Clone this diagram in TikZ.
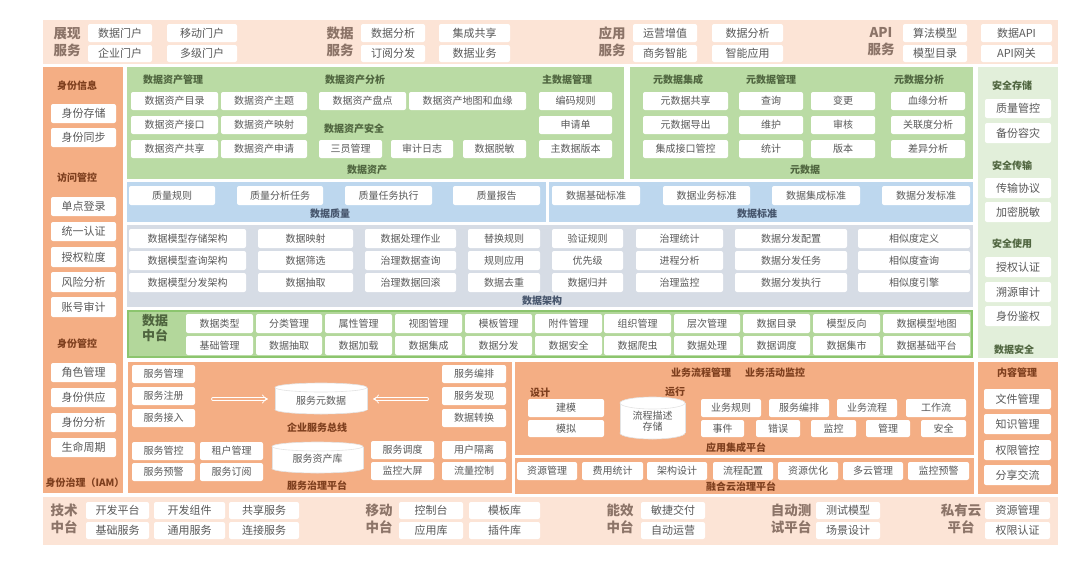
\documentclass[tikz,border=0pt]{standalone}
\usepackage{fontspec}
\setmainfont{Noto Sans CJK SC}
\usetikzlibrary{arrows.meta}
\definecolor{peach}{HTML}{FCE4D6}
\definecolor{orng}{HTML}{F4AE84}
\definecolor{grn}{HTML}{BADBA4}
\definecolor{lgrn}{HTML}{E2EFDA}
\definecolor{blu}{HTML}{BDD7EE}
\definecolor{gry}{HTML}{D6DCE5}
\definecolor{mgrn}{HTML}{B3D79B}
\definecolor{mgrnb}{HTML}{8CC56E}
\definecolor{boxtxt}{HTML}{595959}
\definecolor{bandtxt}{HTML}{8C7468}
\definecolor{orgtxt}{HTML}{7E3F1E}
\definecolor{grntxt}{HTML}{4F653F}
\definecolor{blutxt}{HTML}{45546B}
\definecolor{cylline}{HTML}{E3E3E3}
\newcommand\tbx[7][]{\node[box,minimum width={(#5-#3)*1pt},minimum height={(#6-#4)*1pt},#1] (#2) at ({(#3+#5)/2},{(#4+#6)/2}) {#7};}
\newcommand\tcyl[8]{%
 \filldraw[fill=white,draw=cylline,line width=.6pt] ({(#2+#4)/2},{#5-#6}) ellipse [x radius={(#4-#2)/2*1pt}, y radius=#6pt];
 \fill[white] (#2,{#3+#6}) rectangle (#4,{#5-#6});
 \draw[cylline,line width=.6pt] (#2,{#3+#6}) -- (#2,{#5-#6}) (#4,{#3+#6}) -- (#4,{#5-#6});
 \filldraw[fill=white,draw=cylline,line width=.6pt] ({(#2+#4)/2},{#3+#6}) ellipse [x radius={(#4-#2)/2*1pt}, y radius=#6pt];
 \node[cyltxt] (#1) at ({(#2+#4)/2},{(#3+#5)/2+#7}) {#8};}
\begin{document}
\begin{tikzpicture}[x=1pt,y=-1pt,
  box/.style={fill=white,rounded corners=2pt,inner sep=0pt,text=boxtxt,font=\fontsize{10}{12}\selectfont},
  bx11/.style={font=\fontsize{11}{13}\selectfont},
  cyltxt/.style={inner sep=0pt,text=boxtxt,font=\fontsize{10}{12}\selectfont,align=center},
  lbl/.style={inner sep=0pt,font=\bfseries\fontsize{10}{12}\selectfont},
  olbl/.style={lbl,text=orgtxt},
  glbl/.style={lbl,text=grntxt},
  blbl/.style={lbl,text=blutxt},
  band/.style={inner sep=0pt,align=center,text=bandtxt,font=\bfseries\fontsize{13.5}{17}\selectfont},
  harrow/.style={draw=white,line width=.7pt,double=orng,double distance=2.4pt,line cap=round,-{Implies}}
]
\useasboundingbox (0,0) rectangle (1080,568);
% ---------- backgrounds ----------
\fill[peach] (43,20) rectangle (1058,64);
\fill[orng] (43,67) rectangle (123,493);
\fill[grn] (127,67) rectangle (624,179);
\fill[grn] (630,67) rectangle (973,179);
\fill[lgrn] (978,67) rectangle (1058,358);
\fill[blu] (127,182) rectangle (546,222);
\fill[blu] (549,182) rectangle (973,222);
\fill[gry] (127,225) rectangle (973,307);
\fill[mgrn,draw=mgrnb,line width=1.5pt] (128,311) rectangle (972,357);
\fill[orng] (128,362) rectangle (512,493);
\fill[orng] (515,362) rectangle (974,455);
\fill[orng] (515,458) rectangle (974,494);
\fill[orng] (978,362) rectangle (1058,494);
\fill[peach] (43,497) rectangle (1058,545);
% ---------- top band ----------
\node[band] (L1) at (67,42) {展现\\服务};
\tbx[bx11]{t1}{88}{24}{152}{42}{数据门户}
\tbx[bx11]{t2}{88}{45}{152}{62}{企业门户}
\tbx[bx11]{t3}{167}{24}{237}{42}{移动门户}
\tbx[bx11]{t4}{167}{45}{237}{62}{多级门户}
\node[band] (L2) at (340,42) {数据\\服务};
\tbx[bx11]{t5}{361}{24}{425}{42}{数据分析}
\tbx[bx11]{t6}{361}{45}{425}{62}{订阅分发}
\tbx[bx11]{t7}{439}{24}{510}{42}{集成共享}
\tbx[bx11]{t8}{439}{45}{510}{62}{数据业务}
\node[band] (L3) at (612,42) {应用\\服务};
\tbx[bx11]{t9}{633}{24}{697}{42}{运营增值}
\tbx[bx11]{t10}{633}{45}{697}{62}{商务智能}
\tbx[bx11]{t11}{712}{24}{783}{42}{数据分析}
\tbx[bx11]{t12}{712}{45}{783}{62}{智能应用}
\node[band] (L4) at (881,42) {API\\服务};
\tbx[bx11]{t13}{903}{24}{967}{42}{算法模型}
\tbx[bx11]{t14}{903}{45}{967}{62}{模型目录}
\tbx[bx11]{t15}{981}{24}{1052}{42}{数据API}
\tbx[bx11]{t16}{981}{45}{1052}{62}{API网关}
% ---------- left column ----------
\node[olbl] (l1) at (77,86) {身份信息};
\tbx[bx11]{a1}{51}{104}{116}{123}{身份存储}
\tbx[bx11]{a2}{51}{128}{116}{147}{身份同步}
\node[olbl] (l2) at (77,178) {访问管控};
\tbx[bx11]{a3}{51}{197}{116}{216}{单点登录}
\tbx[bx11]{a4}{51}{222}{116}{241}{统一认证}
\tbx[bx11]{a5}{51}{247}{116}{267}{授权粒度}
\tbx[bx11]{a6}{51}{272}{116}{292}{风险分析}
\tbx[bx11]{a7}{51}{297}{116}{317}{账号审计}
\node[olbl] (l3) at (77,344) {身份管控};
\tbx[bx11]{a8}{51}{363}{116}{382}{角色管理}
\tbx[bx11]{a9}{51}{388}{116}{407}{身份供应}
\tbx[bx11]{a10}{51}{413}{116}{432}{身份分析}
\tbx[bx11]{a11}{51}{438}{116}{457}{生命周期}
\node[olbl] (l4) at (85,483) {身份治理（IAM）};
% ---------- data assets ----------
\node[glbl] (g1) at (173,80) {数据资产管理};
\node[glbl] (g2) at (355,80) {数据资产分析};
\node[glbl] (g3) at (354,129) {数据资产安全};
\node[glbl] (g4) at (567,80) {主数据管理};
\node[glbl] (g5) at (367,170) {数据资产};
\tbx{d1}{131}{92}{218}{110}{数据资产目录}
\tbx{d2}{131}{116}{218}{134}{数据资产接口}
\tbx{d3}{131}{140}{218}{158}{数据资产共享}
\tbx{d4}{221}{92}{307}{110}{数据资产主题}
\tbx{d5}{221}{116}{307}{134}{数据资产映射}
\tbx{d6}{221}{140}{307}{158}{数据资产申请}
\tbx{d7}{319}{92}{406}{110}{数据资产盘点}
\tbx{d8}{409}{92}{526}{110}{数据资产地图和血缘}
\tbx{d9}{319}{140}{382}{158}{三员管理}
\tbx{d10}{391}{140}{453}{158}{审计日志}
\tbx{d11}{463}{140}{526}{158}{数据脱敏}
\tbx{d12}{539}{92}{612}{110}{编码规则}
\tbx{d13}{539}{116}{612}{134}{申请单}
\tbx{d14}{539}{140}{612}{158}{主数据版本}
% ---------- metadata ----------
\node[glbl] (g6) at (678,80) {元数据集成};
\node[glbl] (g7) at (771,80) {元数据管理};
\node[glbl] (g8) at (919,80) {元数据分析};
\node[glbl] (g9) at (805,170) {元数据};
\tbx{m1}{643}{92}{728}{110}{元数据共享}
\tbx{m2}{643}{116}{728}{134}{元数据导出}
\tbx{m3}{643}{140}{728}{158}{集成接口管控}
\tbx{m4}{739}{92}{803}{110}{查询}
\tbx{m5}{739}{116}{803}{134}{维护}
\tbx{m6}{739}{140}{803}{158}{统计}
\tbx{m7}{811}{92}{875}{110}{变更}
\tbx{m8}{811}{116}{875}{134}{审核}
\tbx{m9}{811}{140}{875}{158}{版本}
\tbx{m10}{891}{92}{965}{110}{血缘分析}
\tbx{m11}{891}{116}{965}{134}{关联度分析}
\tbx{m12}{891}{140}{965}{158}{差异分析}
% ---------- data security ----------
\node[glbl] (s1) at (1012,86) {安全存储};
\tbx[bx11]{s2}{985}{99}{1051}{118}{质量管控}
\tbx[bx11]{s3}{985}{123}{1051}{143}{备份容灾}
\node[glbl] (s4) at (1012,166) {安全传输};
\tbx[bx11]{s5}{985}{178}{1051}{198}{传输协议}
\tbx[bx11]{s6}{985}{202}{1051}{222}{加密脱敏}
\node[glbl] (s7) at (1012,244) {安全使用};
\tbx[bx11]{s8}{985}{257}{1051}{277}{授权认证}
\tbx[bx11]{s9}{985}{282}{1051}{302}{溯源审计}
\tbx[bx11]{s10}{985}{306}{1051}{326}{身份鉴权}
\node[glbl] (s11) at (1014,350) {数据安全};
% ---------- quality / standard ----------
\tbx{q1}{129}{186}{215}{205}{质量规则}
\tbx{q2}{237}{186}{323}{205}{质量分析任务}
\tbx{q3}{345}{186}{432}{205}{质量任务执行}
\tbx{q4}{453}{186}{540}{205}{质量报告}
\node[blbl] (q5) at (330,214) {数据质量};
\tbx{q6}{552}{186}{640}{205}{数据基础标准}
\tbx{q7}{663}{186}{750}{205}{数据业务标准}
\tbx{q8}{772}{186}{860}{205}{数据集成标准}
\tbx{q9}{882}{186}{970}{205}{数据分发标准}
\node[blbl] (q10) at (757,214) {数据标准};
% ---------- data architecture ----------
\tbx{r1}{129}{229}{246}{248}{数据模型存储架构}
\tbx{r2}{129}{251}{246}{270}{数据模型查询架构}
\tbx{r3}{129}{273}{246}{292}{数据模型分发架构}
\tbx{r4}{258}{229}{353}{248}{数据映射}
\tbx{r5}{258}{251}{353}{270}{数据筛选}
\tbx{r6}{258}{273}{353}{292}{数据抽取}
\tbx{r7}{365}{229}{456}{248}{数据处理作业}
\tbx{r8}{365}{251}{456}{270}{治理数据查询}
\tbx{r9}{365}{273}{456}{292}{治理数据回滚}
\tbx{r10}{468}{229}{540}{248}{替换规则}
\tbx{r11}{468}{251}{540}{270}{规则应用}
\tbx{r12}{468}{273}{540}{292}{数据去重}
\tbx{r13}{552}{229}{623}{248}{验证规则}
\tbx{r14}{552}{251}{623}{270}{优先级}
\tbx{r15}{552}{273}{623}{292}{数据归并}
\tbx{r16}{636}{229}{723}{248}{治理统计}
\tbx{r17}{636}{251}{723}{270}{进程分析}
\tbx{r18}{636}{273}{723}{292}{治理监控}
\tbx{r19}{735}{229}{847}{248}{数据分发配置}
\tbx{r20}{735}{251}{847}{270}{数据分发任务}
\tbx{r21}{735}{273}{847}{292}{数据分发执行}
\tbx{r22}{858}{229}{970}{248}{相似度定义}
\tbx{r23}{858}{251}{970}{270}{相似度查询}
\tbx{r24}{858}{273}{970}{292}{相似度引擎}
\node[blbl] (r25) at (542,301) {数据架构};
% ---------- data middle platform ----------
\node[band,text=grntxt,font=\bfseries\fontsize{13}{15.5}\selectfont] (p0) at (155,328) {数据\\中台};
\tbx{p1}{186}{314}{253}{333}{数据类型}
\tbx{p2}{256}{314}{322}{333}{分类管理}
\tbx{p3}{325}{314}{392}{333}{属性管理}
\tbx{p4}{395}{314}{462}{333}{视图管理}
\tbx{p5}{465}{314}{532}{333}{模板管理}
\tbx{p6}{535}{314}{602}{333}{附件管理}
\tbx{p7}{604}{314}{671}{333}{组织管理}
\tbx{p8}{674}{314}{740}{333}{层次管理}
\tbx{p9}{743}{314}{810}{333}{数据目录}
\tbx{p10}{813}{314}{880}{333}{模型反向}
\tbx{p11}{883}{314}{970}{333}{数据模型地图}
\tbx{p12}{186}{336}{253}{355}{基础管理}
\tbx{p13}{256}{336}{322}{355}{数据抽取}
\tbx{p14}{325}{336}{392}{355}{数据加载}
\tbx{p15}{395}{336}{462}{355}{数据集成}
\tbx{p16}{465}{336}{532}{355}{数据分发}
\tbx{p17}{535}{336}{602}{355}{数据安全}
\tbx{p18}{604}{336}{671}{355}{数据爬虫}
\tbx{p19}{674}{336}{740}{355}{数据处理}
\tbx{p20}{743}{336}{810}{355}{数据调度}
\tbx{p21}{813}{336}{880}{355}{数据集市}
\tbx{p22}{883}{336}{970}{355}{数据基础平台}
% ---------- service bus / governance ----------
\tbx{e1}{132}{365}{195}{383}{服务管理}
\tbx{e2}{132}{387}{195}{405}{服务注册}
\tbx{e3}{132}{409}{195}{427}{服务接入}
\tbx{e4}{442}{365}{506}{383}{服务编排}
\tbx{e5}{442}{387}{506}{405}{服务发现}
\tbx{e6}{442}{409}{506}{427}{数据转换}
\tcyl{c1}{275}{383}{367}{414}{4.5}{2}{服务元数据}
\coordinate (ar1s) at (213,399);
\coordinate (ar1e) at (268,399);
\coordinate (ar2s) at (427,399);
\coordinate (ar2e) at (373,399);
\draw[harrow] (ar1s) -- (ar1e);
\draw[harrow] (ar2s) -- (ar2e);
\node[olbl] (e7) at (317,428) {企业服务总线};
\tbx{e8}{132}{442}{195}{460}{服务管控}
\tbx{e9}{132}{463}{195}{481}{服务预警}
\tbx{e10}{200}{442}{263}{460}{租户管理}
\tbx{e11}{200}{463}{263}{481}{服务订阅}
\tcyl{c2}{272}{442}{363}{473}{4.5}{1}{服务资产库}
\tbx{e12}{371}{441}{434}{459}{服务调度}
\tbx{e13}{371}{462}{434}{480}{监控大屏}
\tbx{e14}{442}{441}{506}{459}{用户隔离}
\tbx{e15}{442}{462}{506}{480}{流量控制}
\node[olbl] (e16) at (317,486) {服务治理平台};
% ---------- application integration ----------
\node[olbl] (f1) at (701,373) {业务流程管理};
\node[olbl] (f2) at (775,373) {业务活动监控};
\node[olbl] (f3) at (540,393) {设计};
\node[olbl] (f4) at (675,392) {运行};
\tbx{f5}{528}{399}{604}{417}{建模}
\tbx{f6}{528}{420}{604}{437}{模拟}
\tcyl{c3}{620}{397}{685}{439}{6}{3}{流程描述\\[-1pt]存储}
\tbx{f7}{701}{399}{761}{417}{业务规则}
\tbx{f8}{769}{399}{829}{417}{服务编排}
\tbx{f9}{837}{399}{897}{417}{业务流程}
\tbx{f10}{906}{399}{966}{417}{工作流}
\tbx{f11}{701}{420}{744}{437}{事件}
\tbx{f12}{756}{420}{800}{437}{错误}
\tbx{f13}{811}{420}{856}{437}{监控}
\tbx{f14}{866}{420}{910}{437}{管理}
\tbx{f15}{921}{420}{966}{437}{安全}
\node[olbl] (f16) at (736,448) {应用集成平台};
% ---------- hybrid cloud ----------
\tbx{h1}{517}{462}{577}{480}{资源管理}
\tbx{h2}{582}{462}{643}{480}{费用统计}
\tbx{h3}{647}{462}{707}{480}{架构设计}
\tbx{h4}{713}{462}{773}{480}{流程配置}
\tbx{h5}{778}{462}{838}{480}{资源优化}
\tbx{h6}{843}{462}{903}{480}{多云管理}
\tbx{h7}{908}{462}{969}{480}{监控预警}
\node[olbl] (h8) at (741,487) {融合云治理平台};
% ---------- content management ----------
\node[olbl] (k1) at (1017,373) {内容管理};
\tbx[bx11]{k2}{984}{389}{1051}{409}{文件管理}
\tbx[bx11]{k3}{984}{414}{1051}{434}{知识管理}
\tbx[bx11]{k4}{984}{440}{1051}{460}{权限管控}
\tbx[bx11]{k5}{984}{465}{1051}{485}{分享交流}
% ---------- bottom band ----------
\node[band] (B1) at (64,519) {技术\\中台};
\tbx[bx11]{b1}{86}{502}{149}{519}{开发平台}
\tbx[bx11]{b2}{86}{522}{149}{539}{基础服务}
\tbx[bx11]{b3}{154}{502}{225}{519}{开发组件}
\tbx[bx11]{b4}{154}{522}{225}{539}{通用服务}
\tbx[bx11]{b5}{229}{502}{299}{519}{共享服务}
\tbx[bx11]{b6}{229}{522}{299}{539}{连接服务}
\node[band] (B2) at (379,519) {移动\\中台};
\tbx[bx11]{b7}{399}{502}{463}{519}{控制台}
\tbx[bx11]{b8}{399}{522}{463}{539}{应用库}
\tbx[bx11]{b9}{469}{502}{540}{519}{模板库}
\tbx[bx11]{b10}{469}{522}{540}{539}{插件库}
\node[band] (B3) at (620,519) {能效\\中台};
\tbx[bx11]{b11}{641}{502}{705}{519}{敏捷交付}
\tbx[bx11]{b12}{641}{522}{705}{539}{自动运营}
\node[band] (B4) at (791,519) {自动测\\试平台};
\tbx[bx11]{b13}{816}{502}{880}{519}{测试模型}
\tbx[bx11]{b14}{816}{522}{880}{539}{场景设计}
\node[band] (B5) at (961,519) {私有云\\平台};
\tbx[bx11]{b15}{985}{502}{1050}{519}{资源管理}
\tbx[bx11]{b16}{985}{522}{1050}{539}{权限认证}
\end{tikzpicture}
\end{document}
